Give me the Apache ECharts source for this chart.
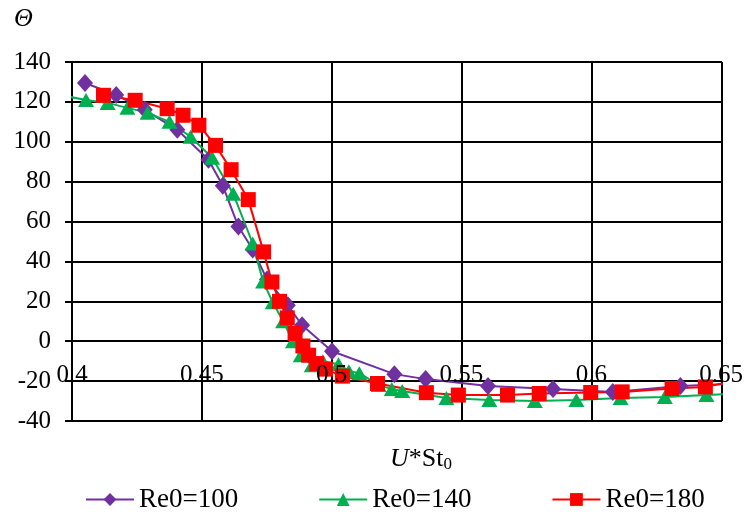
<!DOCTYPE html>
<html>
<head>
<meta charset="utf-8">
<script src="https://cdn.jsdelivr.net/npm/echarts@6/dist/echarts.min.js"></script>
<style>
  html, body { margin: 0; padding: 0; background: #fff; }
  #chart { width: 746px; height: 520px; }
</style>
</head>
<body>
<div id="chart"></div>
<script>
// Axis ranges and tick spacing
const xMin = 0.4, xMax = 0.65, xStep = 0.05;
const yMin = -40, yMax = 140, yStep = 20;

// Series names
const seriesNames = ['Re0=100', 'Re0=140', 'Re0=180'];

// Re0=100
const x100 = [0.405, 0.417, 0.428, 0.4405, 0.4525, 0.458, 0.464, 0.4695, 0.475, 0.483, 0.4885, 0.5, 0.524, 0.536, 0.560, 0.585, 0.608, 0.634, 0.66];
const y100 = [129.5, 123.5, 116, 106, 91, 78, 57.5, 46, 31, 18, 8, -5, -16.5, -19, -22.5, -24, -25.5, -22.5, -21];

// Re0=140
const x140 = [0.395, 0.4054, 0.4137, 0.4213, 0.4291, 0.4375, 0.4456, 0.4539, 0.462, 0.4695, 0.4735, 0.4772, 0.4812, 0.485, 0.488, 0.4922, 0.4965, 0.5025, 0.5065, 0.5105, 0.518, 0.523, 0.527, 0.544, 0.5605, 0.578, 0.594, 0.611, 0.628, 0.644, 0.66];
const y140 = [123.5, 121, 119.5, 117, 114.5, 110, 102.5, 92, 74, 49, 30, 19.5, 10, 0, -7, -12, -10, -11.5, -15, -16, -22, -24, -25, -28.5, -29.5, -30, -29.5, -28.5, -28, -27, -26];

// Re0=180
const x180 = [0.4121, 0.4243, 0.4366, 0.4427, 0.4488, 0.4552, 0.4612, 0.4678, 0.4737, 0.4769, 0.4798, 0.4828, 0.4858, 0.4888, 0.491, 0.4941, 0.4975, 0.504, 0.5175, 0.5363, 0.5486, 0.5675, 0.5797, 0.5995, 0.6116, 0.6308, 0.6436, 0.66];
const y180 = [123.3, 120.8, 116.6, 113.3, 108.3, 98.2, 86, 71, 44.8, 29.7, 20, 11.7, 3.9, -2.4, -7, -11.2, -14, -17.5, -21.2, -25.8, -27, -27, -26.2, -25.7, -25.4, -23.7, -22.9, -18.5];

const FONT = "'Liberation Serif', 'Times New Roman', serif";
const pairs = (xs, ys) => xs.map((x, i) => [x, ys[i]]);

// plot box in pixels
const PLOT = { left: 72, right: 24, top: 62, bottom: 99 };
const plotH = 520 - PLOT.top - PLOT.bottom;
// pixel offset of the zero line from the bottom of the chart
const zeroFromBottom = PLOT.bottom + plotH * (0 - yMin) / (yMax - yMin);

function lineSeries(name, xs, ys, color, symbol, size) {
  return {
    name: name,
    type: 'line',
    xAxisIndex: 0,
    yAxisIndex: 0,
    data: pairs(xs, ys),
    clip: true,
    symbol: symbol,
    symbolSize: size,
    showAllSymbol: true,
    lineStyle: { color: color, width: 2 },
    itemStyle: { color: color, borderWidth: 0 },
    emphasis: { disabled: true },
    animation: false
  };
}

const chart = echarts.init(document.getElementById('chart'), null, { renderer: 'canvas' });

chart.setOption({
  backgroundColor: '#ffffff',
  animation: false,
  textStyle: { fontFamily: FONT, color: '#000' },
  grid: [
    { left: PLOT.left, right: PLOT.right, top: PLOT.top, bottom: PLOT.bottom, containLabel: false },
    // upper part down to the zero line: carries the x tick labels
    { left: PLOT.left, right: PLOT.right, top: PLOT.top, bottom: zeroFromBottom, containLabel: false }
  ],
  xAxis: [
    {
      type: 'value',
      gridIndex: 0,
      min: xMin, max: xMax, interval: xStep,
      axisLine: { show: true, onZero: true, lineStyle: { color: '#000', width: 2 } },
      axisTick: { show: false },
      axisLabel: { show: false },
      splitLine: { show: true, lineStyle: { color: '#000', width: 2 } }
    },
    {
      type: 'value',
      gridIndex: 1,
      position: 'bottom',
      min: xMin, max: xMax, interval: xStep,
      axisLine: { show: false },
      axisTick: { show: false },
      splitLine: { show: false },
      axisLabel: {
        show: true, margin: 22,
        fontFamily: FONT, fontSize: 25, color: '#000',
        formatter: v => String(+v.toFixed(2))
      },
      z: 10
    }
  ],
  yAxis: [
    {
      type: 'value',
      gridIndex: 0,
      min: yMin, max: yMax, interval: yStep,
      axisLine: { show: true, onZero: false, lineStyle: { color: '#000', width: 2 } },
      axisTick: { show: true, inside: false, length: 7, lineStyle: { color: '#000', width: 2 } },
      axisLabel: { margin: 21, fontFamily: FONT, fontSize: 25, color: '#000' },
      splitLine: { show: true, lineStyle: { color: '#000', width: 2 } }
    },
    {
      type: 'value',
      gridIndex: 1,
      min: 0, max: yMax,
      show: false
    }
  ],
  legend: {
    data: seriesNames,
    left: 80,
    top: 481,
    itemWidth: 48,
    itemHeight: 16,
    itemGap: 80,
    textStyle: { fontFamily: FONT, fontSize: 27, color: '#000' }
  },
  graphic: [
    {
      type: 'text',
      left: 14,
      top: 6,
      style: { text: 'Θ', font: "italic 26px " + FONT, fill: '#000' }
    },
    {
      type: 'text',
      left: 390,
      top: 446,
      style: {
        text: '{i|U}{n|*St}{s|0}',
        fill: '#000',
        rich: {
          i: { fontFamily: FONT, fontStyle: 'italic', fontSize: 26, fill: '#000' },
          n: { fontFamily: FONT, fontSize: 26, fill: '#000' },
          s: { fontFamily: FONT, fontSize: 17, fill: '#000', padding: [12, 0, 0, 0] }
        }
      }
    }
  ],
  series: [
    lineSeries(seriesNames[0], x100, y100, '#7030A0', 'diamond', [16, 18]),
    lineSeries(seriesNames[1], x140, y140, '#00B050', 'triangle', [16, 14]),
    lineSeries(seriesNames[2], x180, y180, '#FF0000', 'rect', [15, 15])
  ]
});
</script>
</body>
</html>
